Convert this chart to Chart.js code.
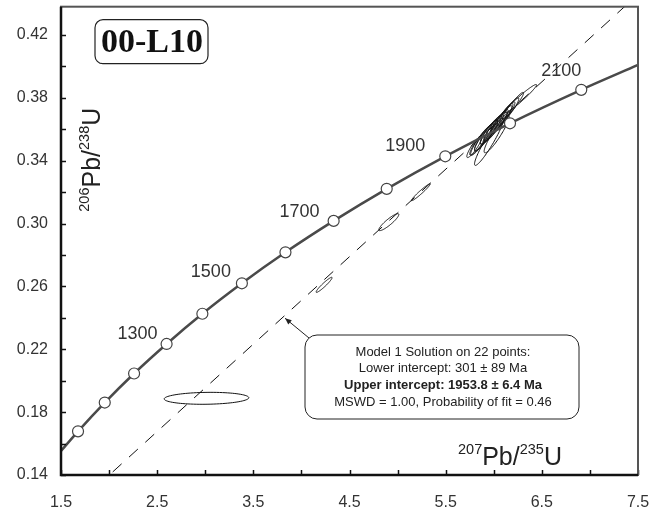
<!DOCTYPE html>
<html>
<head>
<meta charset="utf-8">
<script src="https://cdn.jsdelivr.net/npm/chart.js@4"></script>
<style>
  html, body { margin: 0; padding: 0; background: #fff; }
  canvas { display: block; }
</style>
</head>
<body>
<canvas id="concordia" width="665" height="512"></canvas>
<script>
// === DATA ===
// concordia ticks (Ma) and their positions
const ages = [1000, 1100, 1200, 1300, 1400, 1500, 1600, 1700, 1800, 1900, 2000, 2100];
const concordiaX = [1.677, 1.955, 2.260, 2.598, 2.970, 3.381, 3.834, 4.335, 4.887, 5.496, 6.169, 6.910];
const concordiaY = [0.1678, 0.1861, 0.2046, 0.2234, 0.2426, 0.2620, 0.2817, 0.3017, 0.3221, 0.3428, 0.3638, 0.3851];
// where the curve leaves the frame
const curveEndX = [1.5, 7.5];
const curveEndY = [0.1553, 0.4009];
const labelledAges = [1300, 1500, 1700, 1900, 2100];

// discordia: lower intercept -> beyond upper intercept
const discordiaX = [0.345, 7.5];
const discordiaY = [0.0478, 0.4458];

// analyses (error ellipses): centre, half extents, correlation
const ellX   = [3.013, 4.236, 4.909, 5.241, 5.80, 5.84, 5.87, 5.90, 5.92, 5.95, 5.97, 6.00, 6.02, 6.05, 6.08, 6.10, 6.13, 6.16, 6.20, 6.28, 5.95, 6.03];
const ellY   = [0.1888, 0.2610, 0.3009, 0.3199, 0.3490, 0.3510, 0.3530, 0.3550, 0.3560, 0.3580, 0.3595, 0.3610, 0.3620, 0.3640, 0.3660, 0.3680, 0.3700, 0.3720, 0.3750, 0.3795, 0.3520, 0.3570];
const ellSx  = [0.44, 0.083, 0.104, 0.098, 0.08, 0.09, 0.11, 0.10, 0.12, 0.09, 0.11, 0.10, 0.13, 0.09, 0.11, 0.10, 0.09, 0.10, 0.11, 0.165, 0.15, 0.13];
const ellSy  = [0.0038, 0.0048, 0.0054, 0.0054, 0.0070, 0.0075, 0.0095, 0.0085, 0.0100, 0.0075, 0.0090, 0.0085, 0.0105, 0.0070, 0.0090, 0.0085, 0.0075, 0.0080, 0.0085, 0.0090, 0.0150, 0.0120];
const ellRho = [0.10, 0.95, 0.90, 0.97, 0.90, 0.90, 0.92, 0.90, 0.93, 0.88, 0.92, 0.90, 0.94, 0.90, 0.92, 0.93, 0.90, 0.92, 0.95, 0.97, 0.94, 0.92];

// axis labels
const xTickLabels = ['1.5', '2.5', '3.5', '4.5', '5.5', '6.5', '7.5'];
const yTickLabels = ['0.14', '0.18', '0.22', '0.26', '0.30', '0.34', '0.38', '0.42'];

const infoLines = [
    'Model 1 Solution on 22 points:',
    'Lower intercept: 301 \u00b1 89 Ma',
    'Upper intercept: 1953.8 \u00b1 6.4 Ma',
    'MSWD = 1.00, Probability of fit = 0.46'
];
const sampleName = '00-L10';

const SANS = '"Liberation Sans", Arial, sans-serif';

// draws text like 207Pb/235U with raised numbers
function drawRich(ctx, parts, x, y, big, small) {
    let cx = x;
    parts.forEach(p => {
        ctx.font = (p.sup ? small : big) + 'px ' + SANS;
        ctx.fillText(p.t, cx, p.sup ? y - 11 : y);
        cx += ctx.measureText(p.t).width;
    });
}

// === ELLIPSES ===
const ellipsePlugin = {
    id: 'ellipses',
    beforeDatasetsDraw(chart) {
        const { ctx, chartArea: a } = chart;
        const xs = chart.scales.x, ys = chart.scales.y;
        ctx.save();
        ctx.beginPath();
        ctx.rect(a.left, a.top, a.right - a.left, a.bottom - a.top);
        ctx.clip();
        ctx.strokeStyle = '#111';
        ctx.lineWidth = 1;
        for (let i = 0; i < ellX.length; i++) {
            const r = ellRho[i], q = Math.sqrt(1 - r * r);
            ctx.beginPath();
            for (let k = 0; k <= 90; k++) {
                const t = k / 90 * Math.PI * 2;
                const px = xs.getPixelForValue(ellX[i] + ellSx[i] * Math.cos(t));
                const py = ys.getPixelForValue(ellY[i] + ellSy[i] * (r * Math.cos(t) + q * Math.sin(t)));
                if (k === 0) ctx.moveTo(px, py); else ctx.lineTo(px, py);
            }
            ctx.closePath();
            ctx.stroke();
        }
        ctx.restore();
    }
};

// label offsets from the tick circle (px)
const ageLabelShift = { 1300: [-9, -5], 1500: [-11, -6], 1700: [-14, -4], 1900: [-20, -5], 2100: [0, -14] };

// === FRAME, TICKS, TITLES, BOXES ===
const decorPlugin = {
    id: 'decor',
    afterDraw(chart) {
        const { ctx, chartArea: a } = chart;
        const xs = chart.scales.x, ys = chart.scales.y;
        ctx.save();

        // inward ticks
        ctx.strokeStyle = '#111';
        ctx.lineWidth = 1.5;
        xs.ticks.forEach(t => {
            const px = Math.round(xs.getPixelForValue(t.value)) + 0.5;
            ctx.beginPath(); ctx.moveTo(px, a.bottom); ctx.lineTo(px, a.bottom - 5); ctx.stroke();
        });
        ys.ticks.forEach(t => {
            const py = Math.round(ys.getPixelForValue(t.value)) + 0.5;
            ctx.beginPath(); ctx.moveTo(a.left, py); ctx.lineTo(a.left + 5, py); ctx.stroke();
        });

        // frame
        ctx.strokeStyle = '#555';
        ctx.lineWidth = 2;
        ctx.strokeRect(a.left, a.top, a.right - a.left, a.bottom - a.top);
        ctx.strokeStyle = '#111';
        ctx.lineWidth = 2.5;
        ctx.beginPath();
        ctx.moveTo(a.left, a.top); ctx.lineTo(a.left, a.bottom); ctx.lineTo(a.right, a.bottom);
        ctx.stroke();

        // age labels on concordia
        ctx.fillStyle = '#333';
        ctx.font = '18px ' + SANS;
        ctx.textAlign = 'right';
        ctx.textBaseline = 'alphabetic';
        labelledAges.forEach(age => {
            const i = ages.indexOf(age);
            const px = xs.getPixelForValue(concordiaX[i]);
            const py = ys.getPixelForValue(concordiaY[i]);
            const d = ageLabelShift[age];
            ctx.fillText(String(age), px + d[0], py + d[1]);
        });

        // axis titles
        ctx.textAlign = 'left';
        ctx.fillStyle = '#222';
        drawRich(ctx, [{ t: '207', sup: true }, { t: 'Pb' }, { t: '/' }, { t: '235', sup: true }, { t: 'U' }],
            a.right - 180, a.bottom - 10, 25, 14.5);
        ctx.save();
        ctx.translate(a.left + 39, a.top + 205);
        ctx.rotate(-Math.PI / 2);
        drawRich(ctx, [{ t: '206', sup: true }, { t: 'Pb' }, { t: '/' }, { t: '238', sup: true }, { t: 'U' }],
            0, 0, 25, 14.5);
        ctx.restore();

        // sample name box
        ctx.strokeStyle = '#222';
        ctx.lineWidth = 1.2;
        ctx.beginPath();
        ctx.roundRect(a.left + 34, a.top + 13, 113, 44, 8);
        ctx.stroke();
        ctx.fillStyle = '#111';
        ctx.font = 'bold 34px "Liberation Serif", "Times New Roman", serif';
        ctx.textAlign = 'center';
        ctx.textBaseline = 'middle';
        ctx.fillText(sampleName, a.left + 91, a.top + 37);

        // result box
        const bx = 305, by = 335, bw = 274, bh = 84;
        ctx.fillStyle = '#fff';
        ctx.beginPath();
        ctx.roundRect(bx, by, bw, bh, 12);
        ctx.fill();
        ctx.lineWidth = 1;
        ctx.stroke();
        ctx.fillStyle = '#222';
        ctx.textBaseline = 'middle';
        infoLines.forEach((line, i) => {
            ctx.font = (i === 2 ? 'bold ' : '') + '13px ' + SANS;
            ctx.fillText(line, bx + bw / 2 + 1, by + 17 + i * 16.7);
        });

        // arrow pointing at the discordia
        const tipX = xs.getPixelForValue(3.83);
        const tipY = ys.getPixelForValue(discordiaY[0] + (3.83 - discordiaX[0]) *
            (discordiaY[1] - discordiaY[0]) / (discordiaX[1] - discordiaX[0])) + 3;
        const sx = bx + 4, sy = by + 3;
        const ang = Math.atan2(tipY - sy, tipX - sx);
        ctx.strokeStyle = '#222';
        ctx.lineWidth = 1;
        ctx.beginPath(); ctx.moveTo(sx, sy); ctx.lineTo(tipX, tipY); ctx.stroke();
        ctx.fillStyle = '#222';
        ctx.beginPath();
        ctx.moveTo(tipX, tipY);
        ctx.lineTo(tipX - 7 * Math.cos(ang - 0.4), tipY - 7 * Math.sin(ang - 0.4));
        ctx.lineTo(tipX - 7 * Math.cos(ang + 0.4), tipY - 7 * Math.sin(ang + 0.4));
        ctx.closePath();
        ctx.fill();

        ctx.restore();
    }
};

// keep the plot box fixed: no automatic label padding
function fixBox(s, size) {
    if (s.isHorizontal()) s.height = size; else s.width = size;
    s.paddingTop = 0; s.paddingBottom = 0; s.paddingLeft = 0; s.paddingRight = 0;
}

// === CHART ===
function buildChart() {
    const ctx = document.getElementById('concordia').getContext('2d');

    const curve = [{ x: curveEndX[0], y: curveEndY[0] }]
        .concat(concordiaX.map((v, i) => ({ x: v, y: concordiaY[i] })))
        .concat([{ x: curveEndX[1], y: curveEndY[1] }]);

    new Chart(ctx, {
        type: 'scatter',
        data: {
            datasets: [
                {
                    label: 'ticks',
                    data: concordiaX.map((v, i) => ({ x: v, y: concordiaY[i] })),
                    showLine: false,
                    pointRadius: 5.5,
                    pointBackgroundColor: '#fff',
                    pointBorderColor: '#444',
                    pointBorderWidth: 1.2,
                    order: 0
                },
                {
                    label: 'concordia',
                    data: curve,
                    showLine: true,
                    borderColor: '#4a4a4a',
                    borderWidth: 2.5,
                    pointRadius: 0,
                    cubicInterpolationMode: 'monotone',
                    order: 1
                },
                {
                    label: 'discordia',
                    data: discordiaX.map((v, i) => ({ x: v, y: discordiaY[i] })),
                    showLine: true,
                    borderColor: '#111',
                    borderWidth: 1,
                    borderDash: [12, 10],
                    pointRadius: 0,
                    order: 2
                }
            ]
        },
        options: {
            responsive: false,
            animation: false,
            layout: { padding: { left: 0, right: 27, top: 5, bottom: 0 } },
            plugins: {
                legend: { display: false },
                tooltip: { enabled: false }
            },
            scales: {
                x: {
                    type: 'linear',
                    min: 1.5,
                    max: 7.5,
                    afterFit: s => fixBox(s, 37),
                    grid: { display: true, drawOnChartArea: false, drawTicks: false },
                    border: { display: false },
                    ticks: {
                        stepSize: 0.5,
                        includeBounds: false,
                        padding: 18,
                        color: '#333',
                        font: { family: SANS, size: 16 },
                        maxRotation: 0,
                        autoSkip: false,
                        callback: v => {
                            const k = Math.round((v - 1.5) * 2);
                            return k % 2 === 0 ? xTickLabels[k / 2] : '';
                        }
                    }
                },
                y: {
                    type: 'linear',
                    min: 0.14,
                    max: 0.438,
                    afterFit: s => fixBox(s, 61),
                    grid: { display: true, drawOnChartArea: false, drawTicks: false },
                    border: { display: false },
                    ticks: {
                        stepSize: 0.02,
                        includeBounds: false,
                        padding: 13,
                        color: '#333',
                        font: { family: SANS, size: 16 },
                        autoSkip: false,
                        callback: v => {
                            const k = Math.round((v - 0.14) * 50);
                            return k % 2 === 0 ? yTickLabels[k / 2] : '';
                        }
                    }
                }
            }
        },
        plugins: [ellipsePlugin, decorPlugin]
    });
}

document.addEventListener('DOMContentLoaded', buildChart);
</script>
</body>
</html>
